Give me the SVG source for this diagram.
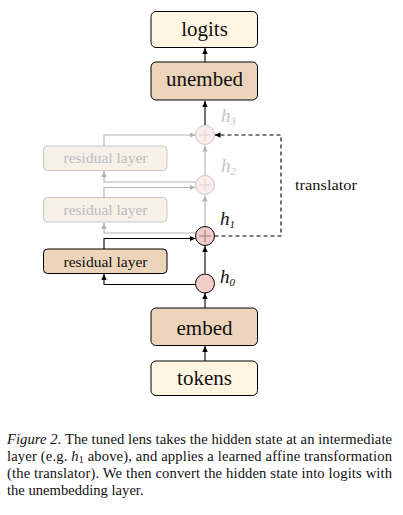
<svg xmlns="http://www.w3.org/2000/svg" width="403" height="515" viewBox="0 0 403 515">
<defs>
<style>
.box{stroke:#000;stroke-width:1}
.cream{fill:#fef6e3}
.tan{fill:#ebd4b9}
.faded{fill:#f6f0e9;stroke:#c8c8c8;stroke-width:1}
text{font-family:"Liberation Serif","Times New Roman",serif}
.lbl{fill:#111;text-anchor:middle}
.big{font-size:21px}
.mid{font-size:15.5px}
.fadedtxt{fill:#bdbdbd}
.hl{font-style:italic;font-size:19px}
.sub{font-size:11px}
.blk{stroke:#000;stroke-width:1.1;fill:none}
.gry{stroke:#b3b3b3;stroke-width:1.1;fill:none}
.dash{stroke:#000;stroke-width:1.1;fill:none;stroke-dasharray:4,3}
.cap{font-size:14.6px;fill:#111}
</style>
<marker id="ab" viewBox="0 0 6 6" refX="6" refY="3" markerWidth="6" markerHeight="6" markerUnits="userSpaceOnUse" orient="auto"><path d="M0,0.3 L6,3 L0,5.7 z" fill="#000"/></marker>
<marker id="ag" viewBox="0 0 6 6" refX="6" refY="3" markerWidth="6" markerHeight="6" markerUnits="userSpaceOnUse" orient="auto"><path d="M0,0.3 L6,3 L0,5.7 z" fill="#b3b3b3"/></marker>
</defs>

<g id="connectors">
<path class="blk" d="M205,62 V48" marker-end="url(#ab)"/>
<path class="blk" d="M205,125.5 V101" marker-end="url(#ab)"/>
<path class="gry" d="M205,176 V145.5" marker-end="url(#ag)"/>
<path class="gry" d="M205,226.5 V195.5" marker-end="url(#ag)"/>
<path class="blk" d="M205,273.5 V246" marker-end="url(#ab)"/>
<path class="blk" d="M205,308 V293" marker-end="url(#ab)"/>
<path class="blk" d="M205,361 V346" marker-end="url(#ab)"/>
<path class="blk" d="M195.6,284.5 H104 V274" marker-end="url(#ab)"/>
<path class="blk" d="M104,249 V238.5 H195.5" marker-end="url(#ab)"/>
<path class="gry" d="M195.6,233 H104 V223" marker-end="url(#ag)"/>
<path class="gry" d="M104,197 V187.5 H195.5" marker-end="url(#ag)"/>
<path class="gry" d="M195.6,182 H104 V171" marker-end="url(#ag)"/>
<path class="gry" d="M104,146 V135 H195.5" marker-end="url(#ag)"/>
<path class="dash" d="M214.5,236 H281 V135 H214.5" marker-end="url(#ab)"/>
</g>

<g id="logits"><rect class="box cream" x="151" y="11.5" width="106.5" height="36" rx="5"/><text class="lbl big" x="204.5" y="36" font-family="Liberation Serif, serif">logits</text></g>
<g id="unembed"><rect class="box tan" x="151" y="62" width="106.5" height="38" rx="5"/><text class="lbl big" x="204.5" y="86" font-family="Liberation Serif, serif">unembed</text></g>
<g id="embed"><rect class="box tan" x="151" y="308" width="106.5" height="37.5" rx="5"/><text class="lbl big" x="204.5" y="335" font-family="Liberation Serif, serif">embed</text></g>
<g id="tokens"><rect class="box cream" x="151" y="361" width="106.5" height="34.5" rx="5"/><text class="lbl big" x="204.5" y="385" font-family="Liberation Serif, serif">tokens</text></g>

<g id="residual3"><rect class="faded" x="43.5" y="146" width="123.5" height="24.5" rx="4"/><text class="lbl mid fadedtxt" x="105.5" y="163" font-family="Liberation Serif, serif">residual layer</text></g>
<g id="residual2"><rect class="faded" x="43.5" y="197.5" width="123.5" height="24.5" rx="4"/><text class="lbl mid fadedtxt" x="105.5" y="215" font-family="Liberation Serif, serif">residual layer</text></g>
<g id="residual1"><rect class="box tan" x="43.5" y="249" width="123.5" height="24.5" rx="4"/><text class="lbl mid" x="105.5" y="266.5" font-family="Liberation Serif, serif">residual layer</text></g>

<g id="h3"><circle cx="205" cy="135" r="9.5" fill="#faeceb" stroke="#c8c8c8" stroke-width="1"/><path d="M199,135 H211 M205,129 V141" stroke="#cfcfcf" stroke-width="0.8"/><text class="hl" x="221" y="122" fill="#c4c4c4" font-family="Liberation Serif, serif">h<tspan class="sub" dy="3">3</tspan></text></g>
<g id="h2"><circle cx="205" cy="185" r="9.5" fill="#faeceb" stroke="#c8c8c8" stroke-width="1"/><path d="M199,185 H211 M205,179 V191" stroke="#cfcfcf" stroke-width="0.8"/><text class="hl" x="221" y="172" fill="#c4c4c4" font-family="Liberation Serif, serif">h<tspan class="sub" dy="3">2</tspan></text></g>
<g id="h1"><circle cx="205" cy="236" r="9.5" fill="#f1cdc7" stroke="#000" stroke-width="1"/><path d="M199,236 H211 M205,230 V242" stroke="#7a6a68" stroke-width="0.8"/><text class="hl" x="220" y="225" fill="#111" font-family="Liberation Serif, serif">h<tspan class="sub" dy="3">1</tspan></text></g>
<g id="h0"><circle cx="205" cy="283.5" r="9.5" fill="#f1cdc7" stroke="#000" stroke-width="1"/><text class="hl" x="220" y="283" fill="#111" font-family="Liberation Serif, serif">h<tspan class="sub" dy="3">0</tspan></text></g>

<g id="translator-label"><text class="lbl mid" x="326" y="190" textLength="62" lengthAdjust="spacingAndGlyphs" font-family="Liberation Serif, serif">translator</text></g>

<g id="caption">
<text class="cap" x="7" y="444" textLength="385" lengthAdjust="spacing"><tspan font-style="italic">Figure 2.</tspan> The tuned lens takes the hidden state at an intermediate</text>
<text class="cap" x="7" y="461" textLength="385" lengthAdjust="spacing">layer (e.g. <tspan font-style="italic">h</tspan><tspan font-size="10px" dy="2">1</tspan><tspan dy="-2"> above), and applies a learned affine transformation</tspan></text>
<text class="cap" x="7" y="478" textLength="385" lengthAdjust="spacing">(the translator). We then convert the hidden state into logits with</text>
<text class="cap" x="7" y="495">the unembedding layer.</text>
</g>
</svg>
